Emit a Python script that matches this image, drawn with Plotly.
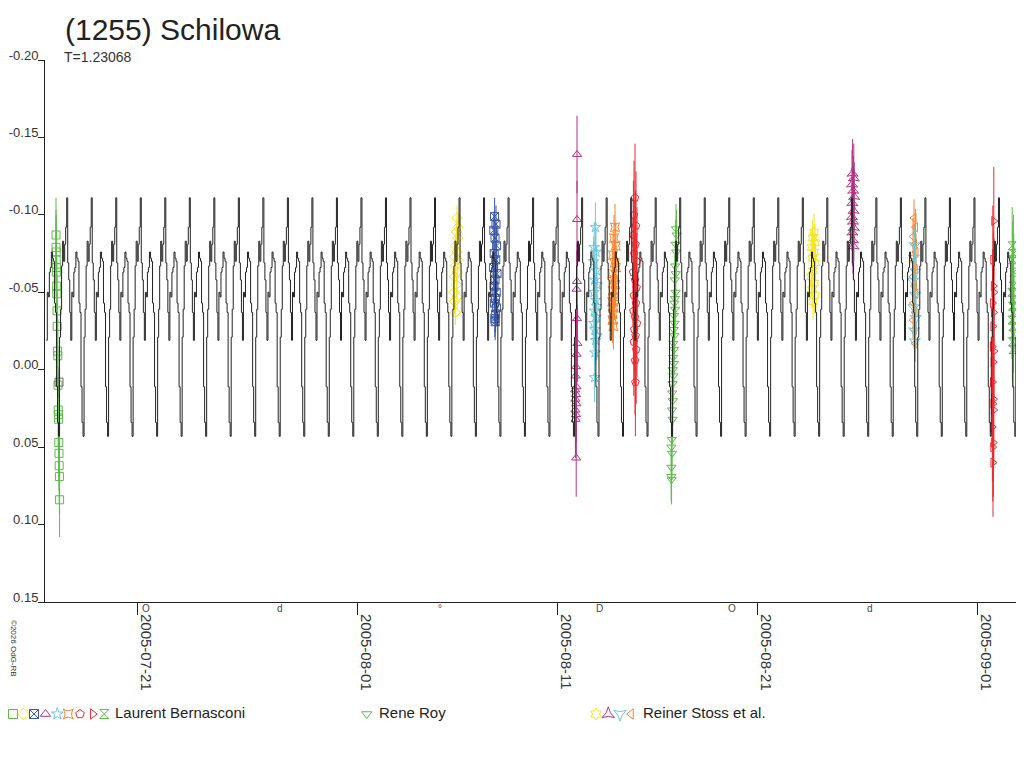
import numpy as np
import pandas as pd
import plotly.graph_objects as go

# ---------------- data ----------------
BASE = "2005-07-21"          # day offsets below are counted from this date (00:00 UT)

# model light curve (one displayed cycle), mag values
model_shape = [-0.111, -0.069, -0.058, -0.037, -0.019, -0.050, -0.047, -0.063,
               -0.066, -0.076, -0.072, -0.070, -0.043, -0.037, 0.011, 0.034,
               0.043, -0.021, -0.039, -0.067, -0.083, -0.070, -0.081, -0.092]
model_period_days = 1.226     # displayed (aliased) repetition on this time scale
model_first_peak = -4.741     # day offset of first drawn peak
model_cycles = 41

# Laurent Bernasconi
lb_sq_t = [-4.05, -4.05, -4.04, -4.04, -4.03, -4.03, -4.02, -4.01, -4.00, -3.99, -3.97,
           -3.96, -3.95, -3.94, -3.93, -3.92, -3.91, -3.90, -3.89, -3.88, -3.87]
lb_sq_m = [-0.087, -0.079, -0.076, -0.071, -0.066, -0.063, -0.054, -0.049, -0.038, -0.028, -0.012,
           -0.009, 0.010, 0.026, 0.029, 0.032, 0.047, 0.054, 0.062, 0.069, 0.084]
grey_t = [-3.90]
grey_m = [0.008]

lb_di_t = [16.00, 16.05, 15.98, 16.04, 15.93, 16.00, 15.88, 16.04, 15.92, 16.01, 15.87, 15.97,
           15.86, 16.00, 15.88, 15.92]
lb_di_m = [-0.098, -0.092, -0.089, -0.085, -0.080, -0.076, -0.073, -0.071, -0.067, -0.063,
           -0.060, -0.055, -0.050, -0.047, -0.044, -0.037]

lb_bx_t = [17.88, 17.95, 17.84, 17.90, 17.98, 17.86, 17.94, 17.83, 18.00, 17.90, 17.85, 17.96,
           17.92, 17.87, 17.97, 17.93, 17.89, 17.91]
lb_bx_m = [-0.099, -0.094, -0.090, -0.085, -0.080, -0.075, -0.071, -0.066, -0.062, -0.058,
           -0.054, -0.050, -0.046, -0.043, -0.040, -0.036, -0.033, -0.031]

lb_tr_t = [22.00, 22.00, 22.00, 21.98, 22.00, 22.02, 21.98, 21.95, 21.93, 21.97, 21.91, 21.95,
           21.92, 21.97, 21.92, 21.95, 21.93, 21.96]
lb_tr_m = [-0.139, -0.097, -0.057, -0.052, -0.033, -0.017, -0.010, -0.002, 0.004, 0.011, 0.013,
           0.016, 0.019, 0.022, 0.026, 0.029, 0.032, 0.057]

lb_st_t = [22.92, 22.86, 22.95, 22.83, 22.97, 22.88, 23.00, 22.85, 22.93, 22.98, 22.87, 22.95,
           22.84, 22.90, 22.99, 22.93, 22.90, 22.88]
lb_st_m = [-0.092, -0.079, -0.076, -0.070, -0.064, -0.058, -0.055, -0.050, -0.045, -0.041,
           -0.038, -0.034, -0.030, -0.026, -0.022, -0.019, -0.011, 0.005]

lb_4s_t = [23.90, 23.85, 23.94, 23.80, 23.88, 23.95, 23.77, 23.86, 23.92, 23.79, 23.88, 23.76,
           23.84, 23.79, 23.77, 23.82]
lb_4s_m = [-0.092, -0.085, -0.080, -0.074, -0.069, -0.066, -0.062, -0.058, -0.055, -0.051,
           -0.047, -0.044, -0.040, -0.036, -0.032, -0.028]

lb_pe_t = [24.90, 24.85, 24.95, 24.82, 24.93, 24.86, 25.00, 24.80, 24.90, 24.98, 24.84, 24.95,
           24.82, 24.90, 25.00, 24.86, 24.93, 24.84, 24.96, 24.90, 24.92]
lb_pe_m = [-0.111, -0.100, -0.093, -0.087, -0.081, -0.075, -0.070, -0.063, -0.058, -0.053,
           -0.048, -0.043, -0.038, -0.034, -0.030, -0.026, -0.022, -0.018, -0.013, -0.006, 0.008]

lb_tri_r_t = [42.84, 42.79, 42.82, 42.85, 42.78, 42.83, 42.80, 42.77, 42.85, 42.81, 42.78,
              42.83, 42.80, 42.84, 42.77, 42.82, 42.79, 42.80]
lb_tri_r_m = [-0.096, -0.071, -0.054, -0.050, -0.043, -0.037, -0.028, -0.015, -0.012, -0.005,
              0.008, 0.019, 0.022, 0.026, 0.037, 0.047, 0.050, 0.060]

lb_hg_t = [43.76, 43.82, 43.78, 43.84, 43.80, 43.74, 43.82, 43.77, 43.84, 43.75, 43.80, 43.83,
           43.77, 43.80]
lb_hg_m = [-0.080, -0.075, -0.071, -0.063, -0.054, -0.050, -0.045, -0.041, -0.037, -0.032,
           -0.028, -0.023, -0.018, -0.013]

# Rene Roy
rr_t = [26.95, 26.98, 26.93, 26.96, 26.91, 26.94, 26.89, 26.93, 26.90, 26.87, 26.90, 26.85,
        26.88, 26.84, 26.87, 26.82, 26.85, 26.81, 26.84, 26.79, 26.82, 26.78, 26.76, 26.79,
        26.75, 26.78, 26.74, 26.72, 26.75, 26.72, 26.71, 26.73]
rr_m = [-0.091, -0.087, -0.081, -0.076, -0.067, -0.062, -0.058, -0.050, -0.046, -0.043,
        -0.039, -0.035, -0.030, -0.026, -0.022, -0.017, -0.013, -0.008, -0.004, 0.000,
        0.004, 0.009, 0.015, 0.020, 0.026, 0.032, 0.045, 0.050, 0.054, 0.063, 0.069, 0.071]

# Reiner Stoss et al.
rs_hx_t = [33.85, 33.78, 33.90, 33.74, 33.85, 33.78, 33.92, 33.80, 33.72, 33.86, 33.76, 33.88, 33.80]
rs_hx_m = [-0.089, -0.085, -0.082, -0.079, -0.076, -0.072, -0.069, -0.064, -0.060, -0.056,
           -0.052, -0.048, -0.044]

rs_pu_t = [35.78, 35.84, 35.75, 35.81, 35.86, 35.77, 35.83, 35.75, 35.80, 35.84, 35.77, 35.80, 35.83]
rs_pu_m = [-0.127, -0.124, -0.120, -0.116, -0.112, -0.108, -0.103, -0.099, -0.096, -0.092,
           -0.089, -0.084, -0.080]

rs_lt_t = [38.85, 38.92, 38.80, 38.88, 38.95, 38.83, 38.91, 38.79, 38.87, 38.94, 38.82, 38.90,
           38.80, 38.86, 38.90]
rs_lt_m = [-0.098, -0.092, -0.086, -0.081, -0.076, -0.070, -0.065, -0.060, -0.054, -0.049,
           -0.043, -0.037, -0.032, -0.026, -0.017]

rs_cy_t = [38.88, 38.84, 38.93, 38.80, 38.90, 38.83, 38.94, 38.86, 38.89]
rs_cy_m = [-0.080, -0.072, -0.063, -0.057, -0.048, -0.040, -0.033, -0.025, -0.018]

x_tick_days = ["2005-07-21", "2005-08-01", "2005-08-11", "2005-08-21", "2005-09-01"]
y_tick_vals = [-0.20, -0.15, -0.10, -0.05, 0.00, 0.05, 0.10, 0.15]
y_tick_text = ["-0.20", "-0.15", "-0.10", "-0.05", "0.00", "0.05", "0.10", "0.15"]

moon_days = [0.46, 7.14, 15.13, 23.11, 29.75, 36.64]
moon_marks = ["O", "d", "°", "D", "O", "d"]

x_range_days = [-4.6, 44.3]
y_range = [0.15, -0.20]

# ---------------- helpers ----------------
base = pd.Timestamp(BASE)


def to_dates(days):
    return [base + pd.Timedelta(days=float(d)) for d in days]


GREEN = "#5dbb48"
YELLOW = "#f4e51c"
BLUE = "#3b56a6"
PURPLE = "#b2327f"
CYAN = "#6ec8da"
ORANGE = "#f5832c"
RED = "#ec2b30"
GREY = "#6a6a6a"

FONT = "Liberation Sans, Arial, sans-serif"
OFF = 8                      # page body margin in the browser
W, H = 1024 - OFF, 768 - OFF
PL, PR, PT, PB = 45, 1023, 60, 602   # plot-area box in screen pixels


def fx(p):
    return (p - OFF) / W


def fy(p):
    return 1 - (p - OFF) / H


fig = go.Figure()

groups = [
    (lb_sq_t, lb_sq_m, "square-open", GREEN, 0.024),
    (grey_t, grey_m, "square-open", GREY, 0.010),
    (lb_di_t, lb_di_m, "diamond-open", YELLOW, 0.008),
    (lb_bx_t, lb_bx_m, "square-x-open", BLUE, 0.012),
    (lb_tr_t, lb_tr_m, "triangle-up-open", PURPLE, 0.025),
    (lb_st_t, lb_st_m, "star-open", CYAN, 0.016),
    (lb_4s_t, lb_4s_m, "star-square-open", ORANGE, 0.015),
    (lb_pe_t, lb_pe_m, "pentagon-open", RED, 0.035),
    (rr_t, rr_m, "triangle-down-open", GREEN, 0.016),
    (rs_hx_t, rs_hx_m, "hexagram-open", YELLOW, 0.012),
    (rs_pu_t, rs_pu_m, "star-triangle-up-open", PURPLE, 0.022),
    (rs_lt_t, rs_lt_m, "triangle-left-open", ORANGE, 0.012),
    (rs_cy_t, rs_cy_m, "star-triangle-down-open", CYAN, 0.012),
    (lb_tri_r_t, lb_tri_r_m, "triangle-right-open", RED, 0.035),
    (lb_hg_t, lb_hg_m, "hourglass-open", GREEN, 0.025),
]

for tt, mm, sym, col, err in groups:
    fig.add_trace(go.Scatter(
        x=to_dates(tt), y=mm, mode="markers",
        marker=dict(symbol=sym, size=8, color=col, line=dict(color=col, width=1)),
        error_y=dict(type="data", array=[err] * len(mm), color=col, thickness=1, width=0),
        showlegend=False, hoverinfo="skip"))

# model curve (template repeated every displayed cycle)
n = len(model_shape)
mt, mm = [], []
for k in range(model_cycles):
    for j in range(n):
        d = model_first_peak + (k + j / n) * model_period_days
        if x_range_days[0] + 0.05 <= d <= x_range_days[1]:
            mt.append(d)
            mm.append(model_shape[j])
fig.add_trace(go.Scatter(x=to_dates(mt), y=mm, mode="lines",
                         line=dict(color="#222222", width=1, shape="hv"),
                         showlegend=False, hoverinfo="skip"))

# legend swatches on a pixel axis placed under the chart
leg_items = [
    (13, "square-open", GREEN), (23.5, "diamond-open", YELLOW), (34, "square-x-open", BLUE),
    (45.5, "triangle-up-open", PURPLE), (57.3, "star-open", CYAN), (68.3, "star-square-open", ORANGE),
    (80, "pentagon-open", RED), (92.7, "triangle-right-open", RED), (104.3, "hourglass-open", GREEN),
    (366.7, "triangle-down-open", GREEN),
    (596, "hexagram-open", YELLOW), (608.3, "star-triangle-up-open", PURPLE),
    (620, "star-triangle-down-open", CYAN), (631, "triangle-left-open", ORANGE),
]
legend_h = 150
fig.add_trace(go.Scatter(
    x=[it[0] - OFF for it in leg_items], y=[768 - 714] * len(leg_items), mode="markers",
    xaxis="x2", yaxis="y2", cliponaxis=False,
    marker=dict(symbol=[it[1] for it in leg_items], size=9,
                color=[it[2] for it in leg_items],
                line=dict(color=[it[2] for it in leg_items], width=1)),
    showlegend=False, hoverinfo="skip"))

ann = []
ann.append(dict(text="T=1.23068", x=fx(62), y=fy(57), xref="paper", yref="paper",
                xanchor="left", yanchor="middle", showarrow=False,
                font=dict(size=14, color="#333333", family=FONT)))
ann.append(dict(text="©2026 OdG-RB", x=fx(14), y=fy(648), xref="paper", yref="paper",
                xanchor="center", yanchor="middle", textangle=90, showarrow=False,
                font=dict(size=8, color="#333333", family=FONT)))
for d, s in zip(moon_days, moon_marks):
    ann.append(dict(text=s, x=to_dates([d])[0], y=fy(608), xref="x", yref="paper",
                    xanchor="center", yanchor="middle", showarrow=False,
                    font=dict(size=10, color="#444444", family=FONT)))
for lx, txt in [(113, "Laurent Bernasconi"), (377, "Rene Roy"), (641, "Reiner Stoss et al.")]:
    ann.append(dict(text=txt, x=fx(lx), y=fy(712), xref="paper", yref="paper",
                    xanchor="left", yanchor="middle", showarrow=False,
                    font=dict(size=15, color="#222222", family=FONT)))

fig.update_layout(
    width=W, height=H, margin=dict(l=0, r=0, t=0, b=0, autoexpand=False),
    paper_bgcolor="white", plot_bgcolor="white",
    title=dict(text="(1255) Schilowa", x=(65 - OFF) / W, xanchor="left",
               y=1 - (29 - OFF) / H, yanchor="middle",
               font=dict(size=30, color="#222222", family=FONT)),
    xaxis=dict(type="date", range=to_dates(x_range_days), domain=[fx(PL), fx(PR)],
               anchor="y", automargin=False, showgrid=False, zeroline=False,
               showline=True, linecolor="#222222", linewidth=1,
               ticks="outside", ticklen=12, tickcolor="#222222",
               tickvals=to_dates([(pd.Timestamp(v) - base).days for v in x_tick_days]),
               ticktext=x_tick_days, tickangle=90, ticklabelshift=9, ticklabelstandoff=-4,
               tickfont=dict(size=15, color="#333333", family=FONT)),
    yaxis=dict(range=y_range, domain=[fy(PB), fy(PT)], anchor="x", automargin=False,
               showgrid=False, zeroline=False,
               showline=True, linecolor="#222222", linewidth=1,
               ticks="outside", ticklen=6, tickcolor="#222222",
               tickvals=y_tick_vals, ticktext=y_tick_text, ticklabelshift=5,
               ticklabelstandoff=-3,
               tickfont=dict(size=13, color="#333333", family=FONT)),
    xaxis2=dict(domain=[0, 1], range=[0, W], anchor="y2", visible=False, fixedrange=True),
    yaxis2=dict(domain=[0, legend_h / H], range=[0, legend_h], anchor="x2", visible=False,
                fixedrange=True),
    annotations=ann,
    showlegend=False,
)

fig.write_html("out.html")
